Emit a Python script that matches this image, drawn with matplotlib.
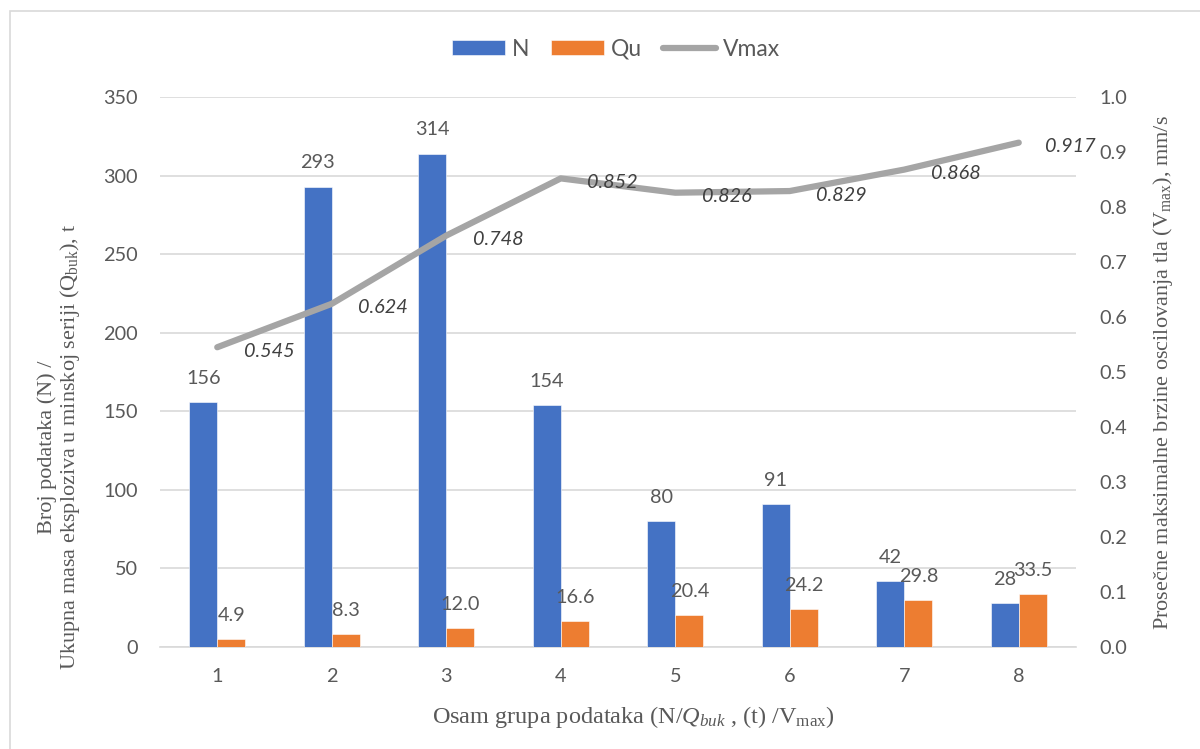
import matplotlib
matplotlib.use("Agg")
import matplotlib.pyplot as plt
import numpy as np
from matplotlib.patches import Rectangle

categories = ["1", "2", "3", "4", "5", "6", "7", "8"]
N_values = [156, 293, 314, 154, 80, 91, 42, 28]
Qu_values = [4.9, 8.3, 12.0, 16.6, 20.4, 24.2, 29.8, 33.5]
Vmax_values = [0.545, 0.624, 0.748, 0.852, 0.826, 0.829, 0.868, 0.917]
left_ticks = [0, 50, 100, 150, 200, 250, 300, 350]
right_ticks = [0.0, 0.1, 0.2, 0.3, 0.4, 0.5, 0.6, 0.7, 0.8, 0.9, 1.0]

plt.rcParams['mathtext.fontset'] = 'custom'
plt.rcParams['mathtext.rm'] = 'Liberation Serif'
plt.rcParams['mathtext.it'] = 'Liberation Serif:italic'

BLUE = "#4472C4"
ORANGE = "#ED7D31"
GRAY = "#A5A5A5"
TXT = "#595959"
GRID = "#D9D9D9"
FS = 14.3

fig = plt.figure(figsize=(12, 7.49), dpi=100)
fig.patches.append(Rectangle((10/1200, -0.01), 1.02, (749-11)/749 + 0.01,
                             transform=fig.transFigure, fill=False,
                             edgecolor="#D9D9D9", lw=1.2, zorder=0))
ax = fig.add_axes([160/1200, 1-647/749, (1076-160)/1200, (647-97)/749])
ax2 = ax.twinx()

x = np.arange(1, len(categories) + 1)
w = 0.245
bN = ax.bar(x - w/2, N_values, w, color=BLUE, label="N", zorder=3,
            edgecolor="white", linewidth=0.4)
bQ = ax.bar(x + w/2, Qu_values, w, color=ORANGE, label="Qu", zorder=3,
            edgecolor="white", linewidth=0.4)

ax.set_ylim(0, 350)
ax.set_xlim(0.5, len(categories) + 0.5)
ax.set_yticks(left_ticks)
ax.set_xticks(x)
ax.set_xticklabels(categories)
ax.yaxis.grid(True, color=GRID, lw=1.2, zorder=0)
ax.set_axisbelow(True)
for s in ["top", "right", "left"]:
    ax.spines[s].set_visible(False)
    ax2.spines[s].set_visible(False)
ax.spines["bottom"].set_color(GRID)
ax.spines["bottom"].set_linewidth(1.2)
ax2.spines["bottom"].set_visible(False)
ax.tick_params(axis='x', length=0, labelsize=FS, colors=TXT, pad=15)
ax.tick_params(axis='y', length=0, labelsize=FS, colors=TXT, pad=16)
for lab in ax.get_xticklabels() + ax.get_yticklabels():
    lab.set_family("Lato")

for xi, v in zip(x - w/2, N_values):
    ax.annotate(f"{v:g}", (xi, v), xytext=(0, 17), textcoords="offset points",
                ha="center", va="center", fontsize=FS, color=TXT, family="Lato")
for xi, v in zip(x + w/2, Qu_values):
    ax.annotate(f"{v:.1f}", (xi, v), xytext=(0, 17), textcoords="offset points",
                ha="center", va="center", fontsize=FS, color=TXT, family="Lato")

ln, = ax2.plot(x, Vmax_values, color=GRAY, lw=4.5, solid_capstyle="round",
               label="Vmax", zorder=4)
ax2.set_ylim(0, 1.0)
ax2.set_yticks(right_ticks)
ax2.set_yticklabels([f"{t:.1f}" for t in right_ticks])
ax2.tick_params(length=0, labelsize=FS, colors=TXT, pad=17)
for lab in ax2.get_yticklabels():
    lab.set_family("Lato")
for xi, v in zip(x, Vmax_values):
    ax2.annotate(f"{v:.3f}", (xi, v), xytext=(19, -3), textcoords="offset points",
                 ha="left", va="center", fontsize=FS, color="#404040",
                 family="Lato", style="italic", zorder=5)

ax.set_ylabel("Broj podataka (N) /\nUkupna masa eksploziva u minskoj seriji (Q$_{\\mathrm{buk}}$), t",
              family="Liberation Serif", fontsize=16, color=TXT,
              linespacing=1.05)
ax.yaxis.set_label_coords(60/1200, 1-447/749, transform=fig.transFigure)
ax2.set_ylabel("Prosečne maksimalne brzine oscilovanja tla (V$_{\\mathrm{max}}$), mm/s",
               family="Liberation Serif", fontsize=16, color=TXT)
ax2.yaxis.set_label_coords(1163/1200, 1-373/749, transform=fig.transFigure)
ax.set_xlabel("Osam grupa podataka (N/$Q_{buk}$ , (t) /V$_{\\mathrm{max}}$)",
              family="Liberation Serif", fontsize=17.5, color=TXT)
ax.xaxis.set_label_coords(633/1200, 1-717/749, transform=fig.transFigure)
ax.xaxis.label.set_va("center")
ax.yaxis.label.set_va("center")
ax2.yaxis.label.set_va("center")

handles = [bN, bQ, ln]
leg = fig.legend(handles, ["N", "Qu", "Vmax"], loc="center",
                 bbox_to_anchor=(616/1200, 1-49/749), ncol=3, frameon=False,
                 prop={"family": "Lato", "size": 16.5}, handlelength=2.3,
                 handleheight=0.6, columnspacing=0.95, handletextpad=0.3)
for t in leg.get_texts():
    t.set_color(TXT)

fig.savefig("out.png", dpi=100)
